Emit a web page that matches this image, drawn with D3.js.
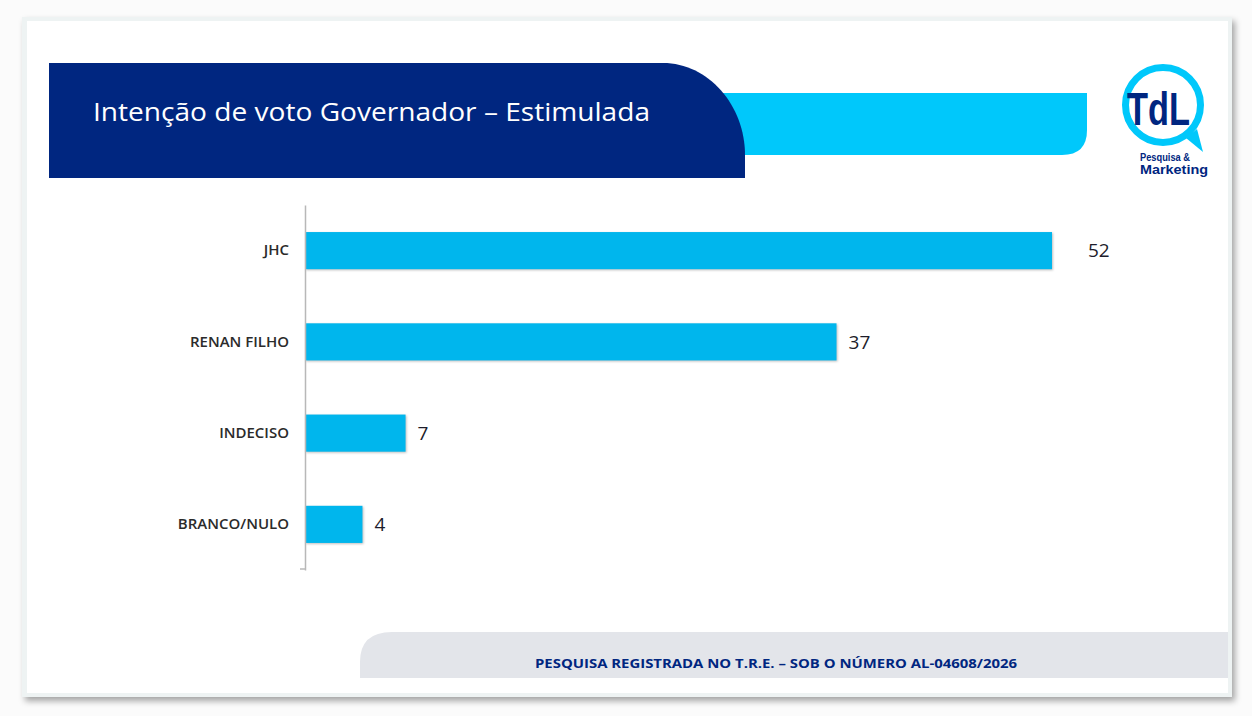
<!DOCTYPE html>
<html>
<head>
<meta charset="utf-8">
<script src="https://cdn.jsdelivr.net/npm/d3@7"></script>
<style>
  html, body { margin: 0; padding: 0; background: #fbfbfb; }
  svg { display: block; }
</style>
</head>
<body>
<div id="chart"></div>
<script>
// dados
const categories = ["JHC", "RENAN FILHO", "INDECISO", "BRANCO/NULO"];
const values = [52, 37, 7, 4];
const title = "Intenção de voto Governador – Estimulada";
const footnote = "PESQUISA REGISTRADA NO T.R.E. – SOB O NÚMERO AL-04608/2026";

const W = 1252, H = 716;
const navy = "#002680", cyan = "#00c8fb", barColor = "#00b6ed";

const svg = d3.select("#chart").append("svg")
    .attr("width", W)
    .attr("height", H);

const defs = svg.append("defs");
const shadow = defs.append("filter").attr("id", "shadow")
    .attr("x", "-5%").attr("y", "-5%").attr("width", "110%").attr("height", "112%");
shadow.append("feDropShadow")
    .attr("dx", 3).attr("dy", 4).attr("stdDeviation", 3)
    .attr("flood-color", "#000").attr("flood-opacity", 0.35);

// cartão
svg.append("rect")
    .attr("x", 22).attr("y", 17).attr("width", 1210).attr("height", 680)
    .attr("fill", "#eef3f3")
    .attr("filter", "url(#shadow)");
svg.append("rect")
    .attr("x", 27).attr("y", 21).attr("width", 1201).attr("height", 672)
    .attr("fill", "#ffffff");

// faixa do título
svg.append("path")
    .attr("d", "M700,93 H1087 V130 Q1087,155 1062,155 H700 Z")
    .attr("fill", cyan);
svg.append("path")
    .attr("d", "M49,63 H663 C708,63 745,105 745,155 V178 H49 Z")
    .attr("fill", navy);
svg.append("text")
    .attr("x", 93).attr("y", 121)
    .attr("fill", "#fff")
    .attr("font-family", "'Open Sans', sans-serif")
    .attr("font-size", 26)
    .attr("textLength", 557)
    .attr("lengthAdjust", "spacingAndGlyphs")
    .text(title);

// logo
const logo = svg.append("g");
logo.append("path")
    .attr("d", "M1186,138 L1203,152 L1197,129 Z")
    .attr("fill", cyan);
logo.append("circle")
    .attr("cx", 1163).attr("cy", 105).attr("r", 37.5)
    .attr("fill", "#fff").attr("stroke", cyan).attr("stroke-width", 7);
logo.append("text")
    .attr("x", 1127).attr("y", 125)
    .attr("fill", navy)
    .attr("font-family", "'Liberation Sans', sans-serif")
    .attr("font-weight", 700)
    .attr("font-size", 46)
    .attr("textLength", 63)
    .attr("lengthAdjust", "spacingAndGlyphs")
    .text("TdL");
logo.append("text")
    .attr("x", 1140).attr("y", 161)
    .attr("fill", navy)
    .attr("font-family", "'Liberation Sans', sans-serif")
    .attr("font-weight", 700)
    .attr("font-size", 10)
    .attr("textLength", 50)
    .attr("lengthAdjust", "spacingAndGlyphs")
    .text("Pesquisa &");
logo.append("text")
    .attr("x", 1140).attr("y", 174)
    .attr("fill", navy)
    .attr("font-family", "'Liberation Sans', sans-serif")
    .attr("font-weight", 700)
    .attr("font-size", 13)
    .attr("textLength", 68)
    .attr("lengthAdjust", "spacingAndGlyphs")
    .text("Marketing");

// gráfico de barras
const x = d3.scaleLinear()
    .domain([0, 52])
    .range([305, 1052]);

const y = d3.scaleBand()
    .domain(categories)
    .range([205, 570])
    .paddingInner(0.593)
    .paddingOuter(0.2965);

const rows = categories.map((c, i) => ({ cat: c, val: values[i] }));

svg.append("g")
    .selectAll("rect")
    .data(rows)
    .join("rect")
    .attr("x", x(0))
    .attr("y", d => y(d.cat))
    .attr("width", d => x(d.val) - x(0))
    .attr("height", y.bandwidth())
    .attr("fill", barColor)
    .style("filter", "drop-shadow(1px 1px 1px rgba(0,0,0,0.25))");

svg.append("g")
    .selectAll("text")
    .data(rows)
    .join("text")
    .attr("x", d => x(d.val) + (d.val === 52 ? 36 : 12))
    .attr("y", d => y(d.cat) + y.bandwidth() / 2)
    .attr("dy", "0.35em")
    .attr("fill", "#1d1d2b")
    .attr("font-family", "'Open Sans', sans-serif")
    .attr("font-size", 19)
    .text(d => d.val);

const yAxis = svg.append("g")
    .attr("transform", `translate(${x(0)},0)`)
    .call(d3.axisLeft(y).tickSize(0).tickSizeOuter(0).tickPadding(16));
yAxis.select(".domain").attr("stroke", "#b8b8b8").attr("stroke-width", 1.5);
yAxis.selectAll("text")
    .attr("fill", "#2b2b2b")
    .attr("font-family", "'Open Sans', sans-serif")
    .attr("font-weight", 600)
    .attr("font-size", 15);
yAxis.append("line")
    .attr("x1", -5).attr("x2", 0)
    .attr("y1", 569).attr("y2", 569)
    .attr("stroke", "#b8b8b8").attr("stroke-width", 1.5);

// rodapé
svg.append("path")
    .attr("d", "M360,678 V662 Q360,632 392,632 H1228 V678 Z")
    .attr("fill", "#e3e5ea");
svg.append("text")
    .attr("x", 776).attr("y", 668)
    .attr("text-anchor", "middle")
    .attr("fill", navy)
    .attr("font-family", "'Open Sans', sans-serif")
    .attr("font-weight", 700)
    .attr("font-size", 13)
    .attr("textLength", 482)
    .attr("lengthAdjust", "spacingAndGlyphs")
    .text(footnote);
</script>
</body>
</html>
